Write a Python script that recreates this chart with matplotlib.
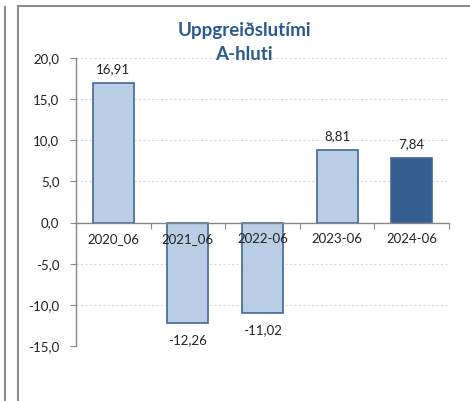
import matplotlib
matplotlib.use("Agg")
import matplotlib.pyplot as plt
from matplotlib.lines import Line2D

categories = ["2020_06", "2021_06", "2022-06", "2023-06", "2024-06"]
values = [16.91, -12.26, -11.02, 8.81, 7.84]
labels = ["16,91", "-12,26", "-11,02", "8,81", "7,84"]
yticks = [-15, -10, -5, 0, 5, 10, 15, 20]
ytick_labels = ["-15,0", "-10,0", "-5,0", "0,0", "5,0", "10,0", "15,0", "20,0"]
title = "Uppgreiðslutími\nA-hluti"

plt.rcParams['font.family'] = ['Lato', 'DejaVu Sans']

fig = plt.figure(figsize=(4.70, 4.01), dpi=100)
ax = fig.add_axes([76/470, 1-346/401, (449-76)/470, (346-58)/401])

light = "#B9CDE5"
dark = "#365F91"
edge = "#41679A"
colors = [light, light, light, light, dark]
x = list(range(len(categories)))
ax.bar(x, values, width=0.55, color=colors, edgecolor=edge, linewidth=1.2, zorder=3)

fs = 9.5
for xi, v, lab in zip(x, values, labels):
    off = 10 if v >= 0 else -12
    ax.annotate(lab, (xi, v), xytext=(0, off), textcoords="offset points",
                ha="center", va="center", fontsize=fs, color="#222222")

ax.set_xlim(-0.5, len(categories) - 0.5)
ax.set_ylim(-15, 20)
ax.set_yticks(yticks)
ax.set_yticklabels(ytick_labels, fontsize=fs, color="#222222")
ax.set_xticks([i - 0.5 for i in range(len(categories) + 1)])
ax.set_xticklabels([])
ax.tick_params(axis="y", direction="out", length=4, color="#868686", pad=8)
ax.tick_params(axis="x", direction="out", length=4, color="#868686")

for xi, c in zip(x, categories):
    ax.annotate(c, (xi, 0), xytext=(0, -12), textcoords="offset points",
                ha="center", va="center", fontsize=fs, color="#222222", zorder=5)

for y in yticks:
    if y != 0:
        ax.axhline(y, color="#D9D9D9", linestyle=(0, (2, 2)), linewidth=0.8, zorder=1)

for s in ["top", "right", "bottom"]:
    ax.spines[s].set_visible(False)
ax.spines["left"].set_color("#868686")
ax.spines["left"].set_linewidth(1.0)
ax.spines["bottom"].set_position(("data", 0))
ax.spines["bottom"].set_visible(True)
ax.spines["bottom"].set_color("#868686")
ax.spines["bottom"].set_linewidth(1.0)
ax.spines["bottom"].set_zorder(4)

fig.text(244/470, 1-42.5/401, title, ha="center", va="center", fontsize=13.5,
         fontweight="bold", color="#2B5B8E", linespacing=1.45)

fc = "#8C8C8C"
fig.add_artist(Line2D([4.5/470, 4.5/470], [0, 1-7/401], color=fc, linewidth=1.5, transform=fig.transFigure))
fig.add_artist(Line2D([17.5/470, 17.5/470], [0, 1-5.5/401], color=fc, linewidth=1.5, transform=fig.transFigure))
fig.add_artist(Line2D([17.5/470, 1], [1-5.5/401, 1-5.5/401], color=fc, linewidth=1.5, transform=fig.transFigure))

fig.savefig("out.png", dpi=100)
